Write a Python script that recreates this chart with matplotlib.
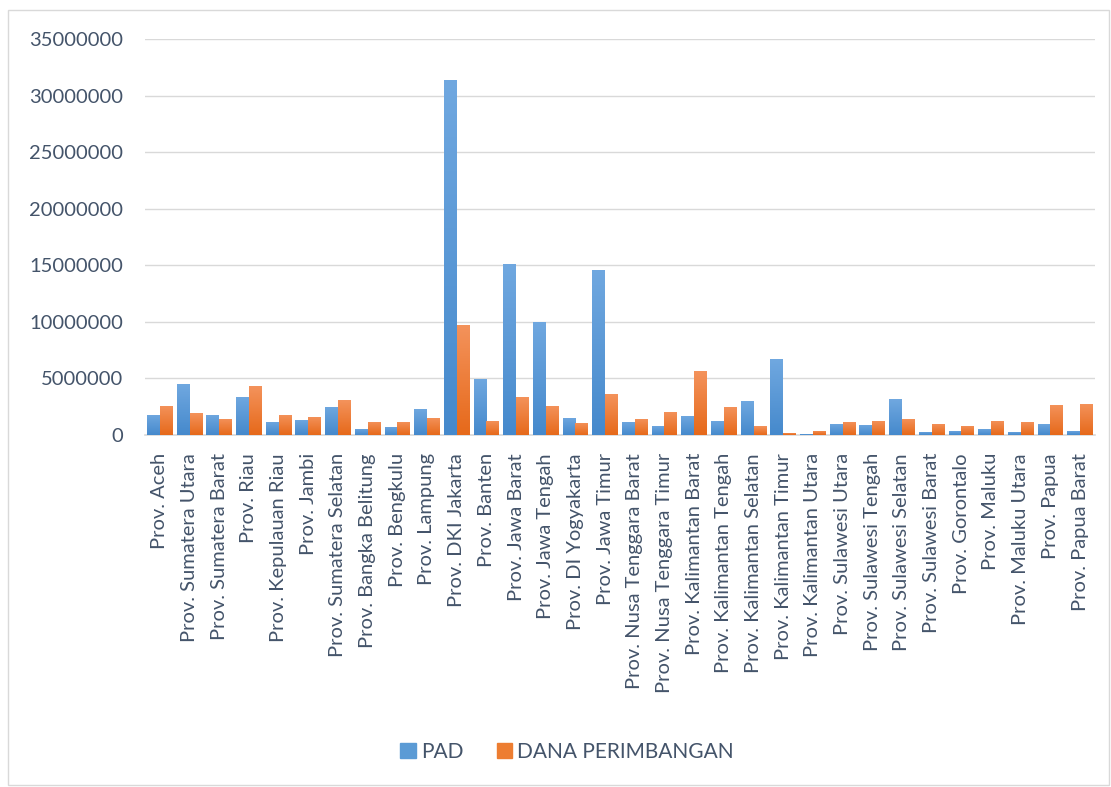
import numpy as np
import matplotlib
matplotlib.use("Agg")
import matplotlib.pyplot as plt
from matplotlib.patches import Rectangle
from matplotlib.colors import LinearSegmentedColormap

provinsi = ["Prov. Aceh", "Prov. Sumatera Utara", "Prov. Sumatera Barat", "Prov. Riau",
            "Prov. Kepulauan Riau", "Prov. Jambi", "Prov. Sumatera Selatan",
            "Prov. Bangka Belitung", "Prov. Bengkulu", "Prov. Lampung", "Prov. DKI Jakarta",
            "Prov. Banten", "Prov. Jawa Barat", "Prov. Jawa Tengah", "Prov. DI Yogyakarta",
            "Prov. Jawa Timur", "Prov. Nusa Tenggara Barat", "Prov. Nusa Tenggara Timur",
            "Prov. Kalimantan Barat", "Prov. Kalimantan Tengah", "Prov. Kalimantan Selatan",
            "Prov. Kalimantan Timur", "Prov. Kalimantan Utara", "Prov. Sulawesi Utara",
            "Prov. Sulawesi Tengah", "Prov. Sulawesi Selatan", "Prov. Sulawesi Barat",
            "Prov. Gorontalo", "Prov. Maluku", "Prov. Maluku Utara", "Prov. Papua",
            "Prov. Papua Barat"]

pad = [1800000, 4470000, 1800000, 3400000, 1180000, 1360000, 2500000, 560000,
       740000, 2340000, 31400000, 4970000, 15100000, 10000000, 1540000, 14600000,
       1180000, 830000, 1720000, 1270000, 2960000, 6700000, 120000, 1000000,
       920000, 3140000, 300000, 380000, 560000, 300000, 1000000, 380000]

dana_perimbangan = [2600000, 1900000, 1450000, 4290000, 1800000, 1630000, 3050000, 1180000,
                    1180000, 1540000, 9730000, 1270000, 3400000, 2600000, 1090000, 3580000,
                    1450000, 2070000, 5620000, 2510000, 770000, 200000, 380000, 1180000,
                    1270000, 1450000, 1000000, 830000, 1270000, 1180000, 2690000, 2780000]

yticks = [0, 5000000, 10000000, 15000000, 20000000, 25000000, 30000000, 35000000]

txt = "#44546a"
plt.rcParams['font.family'] = ['Lato', 'DejaVu Sans']

fig = plt.figure(figsize=(11.11, 7.87), dpi=100)
ax = fig.add_axes([0.1305, 0.4473, 0.855, 0.5031])

x = np.arange(len(provinsi))
w = 0.43
b1 = ax.bar(x - w / 2, pad, w, color="#5b9bd5", label="PAD", zorder=2)
b2 = ax.bar(x + w / 2, dana_perimbangan, w, color="#ed7d31", label="DANA PERIMBANGAN", zorder=2)

# gradient fill like the excel bars
blue_cm = LinearSegmentedColormap.from_list("b", ["#4589cc", "#70a8e0"])
orng_cm = LinearSegmentedColormap.from_list("o", ["#e6691a", "#f4935c"])
grad = np.linspace(0, 1, 256).reshape(-1, 1)
for bars, cm in ((b1, blue_cm), (b2, orng_cm)):
    for p in bars:
        x0, y0 = p.get_x(), p.get_y()
        x1, y1 = x0 + p.get_width(), y0 + p.get_height()
        im = ax.imshow(grad, cmap=cm, extent=(x0, x1, y0, y1), origin="lower",
                       aspect="auto", zorder=3)
        im.set_clip_path(p)

ax.set_xlim(-0.5, len(provinsi) - 0.5)
ax.set_ylim(0, 35000000)
ax.set_yticks(yticks)
ax.set_yticklabels([str(v) for v in yticks], fontsize=14.5, color=txt)
ax.set_xticks(x)
ax.set_xticklabels(provinsi, rotation=90, fontsize=14.5, color=txt)
ax.tick_params(axis="both", length=0)
ax.tick_params(axis="y", pad=16)
ax.tick_params(axis="x", pad=13)
ax.grid(axis="y", color="#d9d9d9", linewidth=1, zorder=0)
for s in ("top", "right", "left"):
    ax.spines[s].set_visible(False)
ax.spines["bottom"].set_color("#d9d9d9")
ax.spines["bottom"].set_linewidth(1.2)

leg = ax.legend(handles=[Rectangle((0, 0), 1, 1, color="#5b9bd5"),
                         Rectangle((0, 0), 1, 1, color="#ed7d31")],
                labels=["PAD", "DANA PERIMBANGAN"],
                loc="center", bbox_to_anchor=(567 / 1111, 35 / 787), bbox_transform=fig.transFigure,
                ncol=2, frameon=False, fontsize=15, handlelength=0.75, handleheight=0.75,
                handletextpad=0.25, columnspacing=1.6)
for t in leg.get_texts():
    t.set_color(txt)

fig.patches.append(Rectangle((8 / 1111, 2 / 787), 1 - 10 / 1111, 1 - 12 / 787,
                             transform=fig.transFigure, fill=False,
                             edgecolor="#d9d9d9", linewidth=1))

fig.savefig("out.png", dpi=100)
